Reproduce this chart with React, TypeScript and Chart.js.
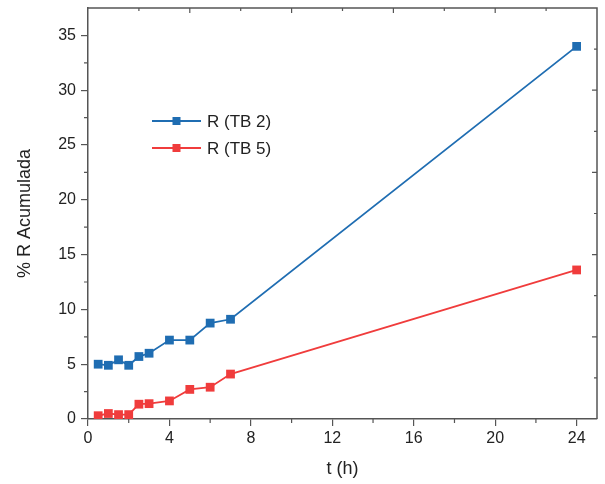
import React, { useEffect, useRef } from "react";
import { Chart, registerables } from "chart.js";
Chart.register(...registerables);

const times = [0.5, 1, 1.5, 2, 2.5, 3, 4, 5, 6, 7, 24];
const tb2 = [5.0, 4.9, 5.4, 4.9, 5.7, 6.0, 7.2, 7.2, 8.75, 9.1, 34.0];
const tb5 = [0.3, 0.5, 0.4, 0.4, 1.35, 1.4, 1.65, 2.7, 2.9, 4.1, 13.6];
const seriesNames = ["R (TB 2)", "R (TB 5)"];
const seriesColors = ["#1f6db2", "#f03c3c"];
const xTicks = [0, 4, 8, 12, 16, 20, 24];
const yTicks = [0, 5, 10, 15, 20, 25, 30, 35];
const xMinorTicks = [2, 6, 10, 14, 18, 22];
const yMinorTicks = [2.5, 7.5, 12.5, 17.5, 22.5, 27.5, 32.5];
// top and right frame ticks: fractions of the axis length (10 divisions, majors on even)
const frameTickFractions = [0.1, 0.2, 0.3, 0.4, 0.5, 0.6, 0.7, 0.8, 0.9];
const xTitle = "t (h)";
const yTitle = "% R Acumulada";

const FONT = "'Liberation Sans', Arial, sans-serif";
const AXIS = "#555555";

const framePlugin = {
  id: "frame",
  afterDraw(chart: any) {
    const { ctx, chartArea: a, scales } = chart;
    ctx.save();
    ctx.strokeStyle = AXIS;
    ctx.lineWidth = 1.5;
    ctx.beginPath();
    ctx.moveTo(a.left, a.top);
    ctx.lineTo(a.right, a.top);
    ctx.lineTo(a.right, a.bottom);
    ctx.stroke();
    // minor ticks
    ctx.lineWidth = 1.2;
    ctx.beginPath();
    for (const v of xMinorTicks) {
      const x = scales.x.getPixelForValue(v);
      ctx.moveTo(x, a.bottom);
      ctx.lineTo(x, a.bottom + 4);
    }
    for (const v of yMinorTicks) {
      const y = scales.y.getPixelForValue(v);
      ctx.moveTo(a.left, y);
      ctx.lineTo(a.left - 4, y);
    }
    // top & right inward ticks
    frameTickFractions.forEach((f, i) => {
      const len = i % 2 === 1 ? 5 : 3;
      const x = a.left + f * (a.right - a.left);
      ctx.moveTo(x, a.top);
      ctx.lineTo(x, a.top + len);
      const y = a.bottom - f * (a.bottom - a.top);
      ctx.moveTo(a.right, y);
      ctx.lineTo(a.right - len, y);
    });
    ctx.stroke();
    // legend
    const lx = 152;
    const ly = [121, 148];
    ctx.font = `17px ${FONT}`;
    ctx.textBaseline = "middle";
    chart.data.datasets.forEach((ds: any, i: number) => {
      const y = ly[i];
      ctx.strokeStyle = ds.borderColor;
      ctx.lineWidth = 2;
      ctx.beginPath();
      ctx.moveTo(lx, y);
      ctx.lineTo(lx + 49, y);
      ctx.stroke();
      ctx.fillStyle = ds.borderColor;
      ctx.fillRect(lx + 24.5 - 4, y - 4, 8, 8);
      ctx.fillStyle = "#222";
      ctx.fillText(ds.label, lx + 55, y + 1);
    });
    ctx.restore();
  },
};

export default function App() {
  const ref = useRef<HTMLCanvasElement>(null);
  useEffect(() => {
    const chart = new Chart(ref.current!, {
      type: "line",
      data: {
        datasets: [tb2, tb5].map((vals, i) => ({
          label: seriesNames[i],
          data: times.map((t, j) => ({ x: t, y: vals[j] })),
          borderColor: seriesColors[i],
          backgroundColor: seriesColors[i],
          borderWidth: 1.8,
          pointStyle: "rect",
          pointRadius: 6.2,
          pointBorderWidth: 0,
          pointHoverRadius: 6.2,
          tension: 0,
        })),
      },
      options: {
        animation: false,
        responsive: false,
        layout: { padding: { top: 8, right: 8, left: 0, bottom: 0 } },
        plugins: { legend: { display: false }, tooltip: { enabled: false } },
        scales: {
          x: {
            type: "linear",
            min: 0,
            max: 25,
            afterBuildTicks: (s: any) => {
              s.ticks = xTicks.map((v) => ({ value: v }));
            },
            afterFit: (s: any) => {
              s.height = 65;
              s.paddingLeft = 0;
              s.paddingRight = 0;
            },
            ticks: { color: "#222", font: { family: FONT, size: 16 }, padding: 3, maxRotation: 0, autoSkip: false },
            grid: { drawOnChartArea: false, tickLength: 7, color: AXIS, lineWidth: 1.2 },
            border: { color: AXIS, width: 1.5 },
            title: { display: true, text: xTitle, color: "#222", font: { family: FONT, size: 18 }, padding: { top: 6 } },
          },
          y: {
            type: "linear",
            min: 0,
            max: 37.5,
            afterBuildTicks: (s: any) => {
              s.ticks = yTicks.map((v) => ({ value: v }));
            },
            afterFit: (s: any) => {
              s.width = 88;
              s.paddingTop = 0;
              s.paddingBottom = 0;
            },
            ticks: { color: "#222", font: { family: FONT, size: 16 }, padding: 5, autoSkip: false },
            grid: { drawOnChartArea: false, tickLength: 7, color: AXIS, lineWidth: 1.2 },
            border: { color: AXIS, width: 1.5 },
            title: { display: true, text: yTitle, color: "#222", font: { family: FONT, size: 18 }, padding: { top: 14, bottom: 0 } },
          },
        },
      },
      plugins: [framePlugin],
    } as any);
    return () => chart.destroy();
  }, []);
  return (
    <div style={{ position: "fixed", left: 0, top: 0, width: 605, height: 484, background: "#fff" }}>
      <canvas ref={ref} width={605} height={484} style={{ width: 605, height: 484 }} />
    </div>
  );
}
